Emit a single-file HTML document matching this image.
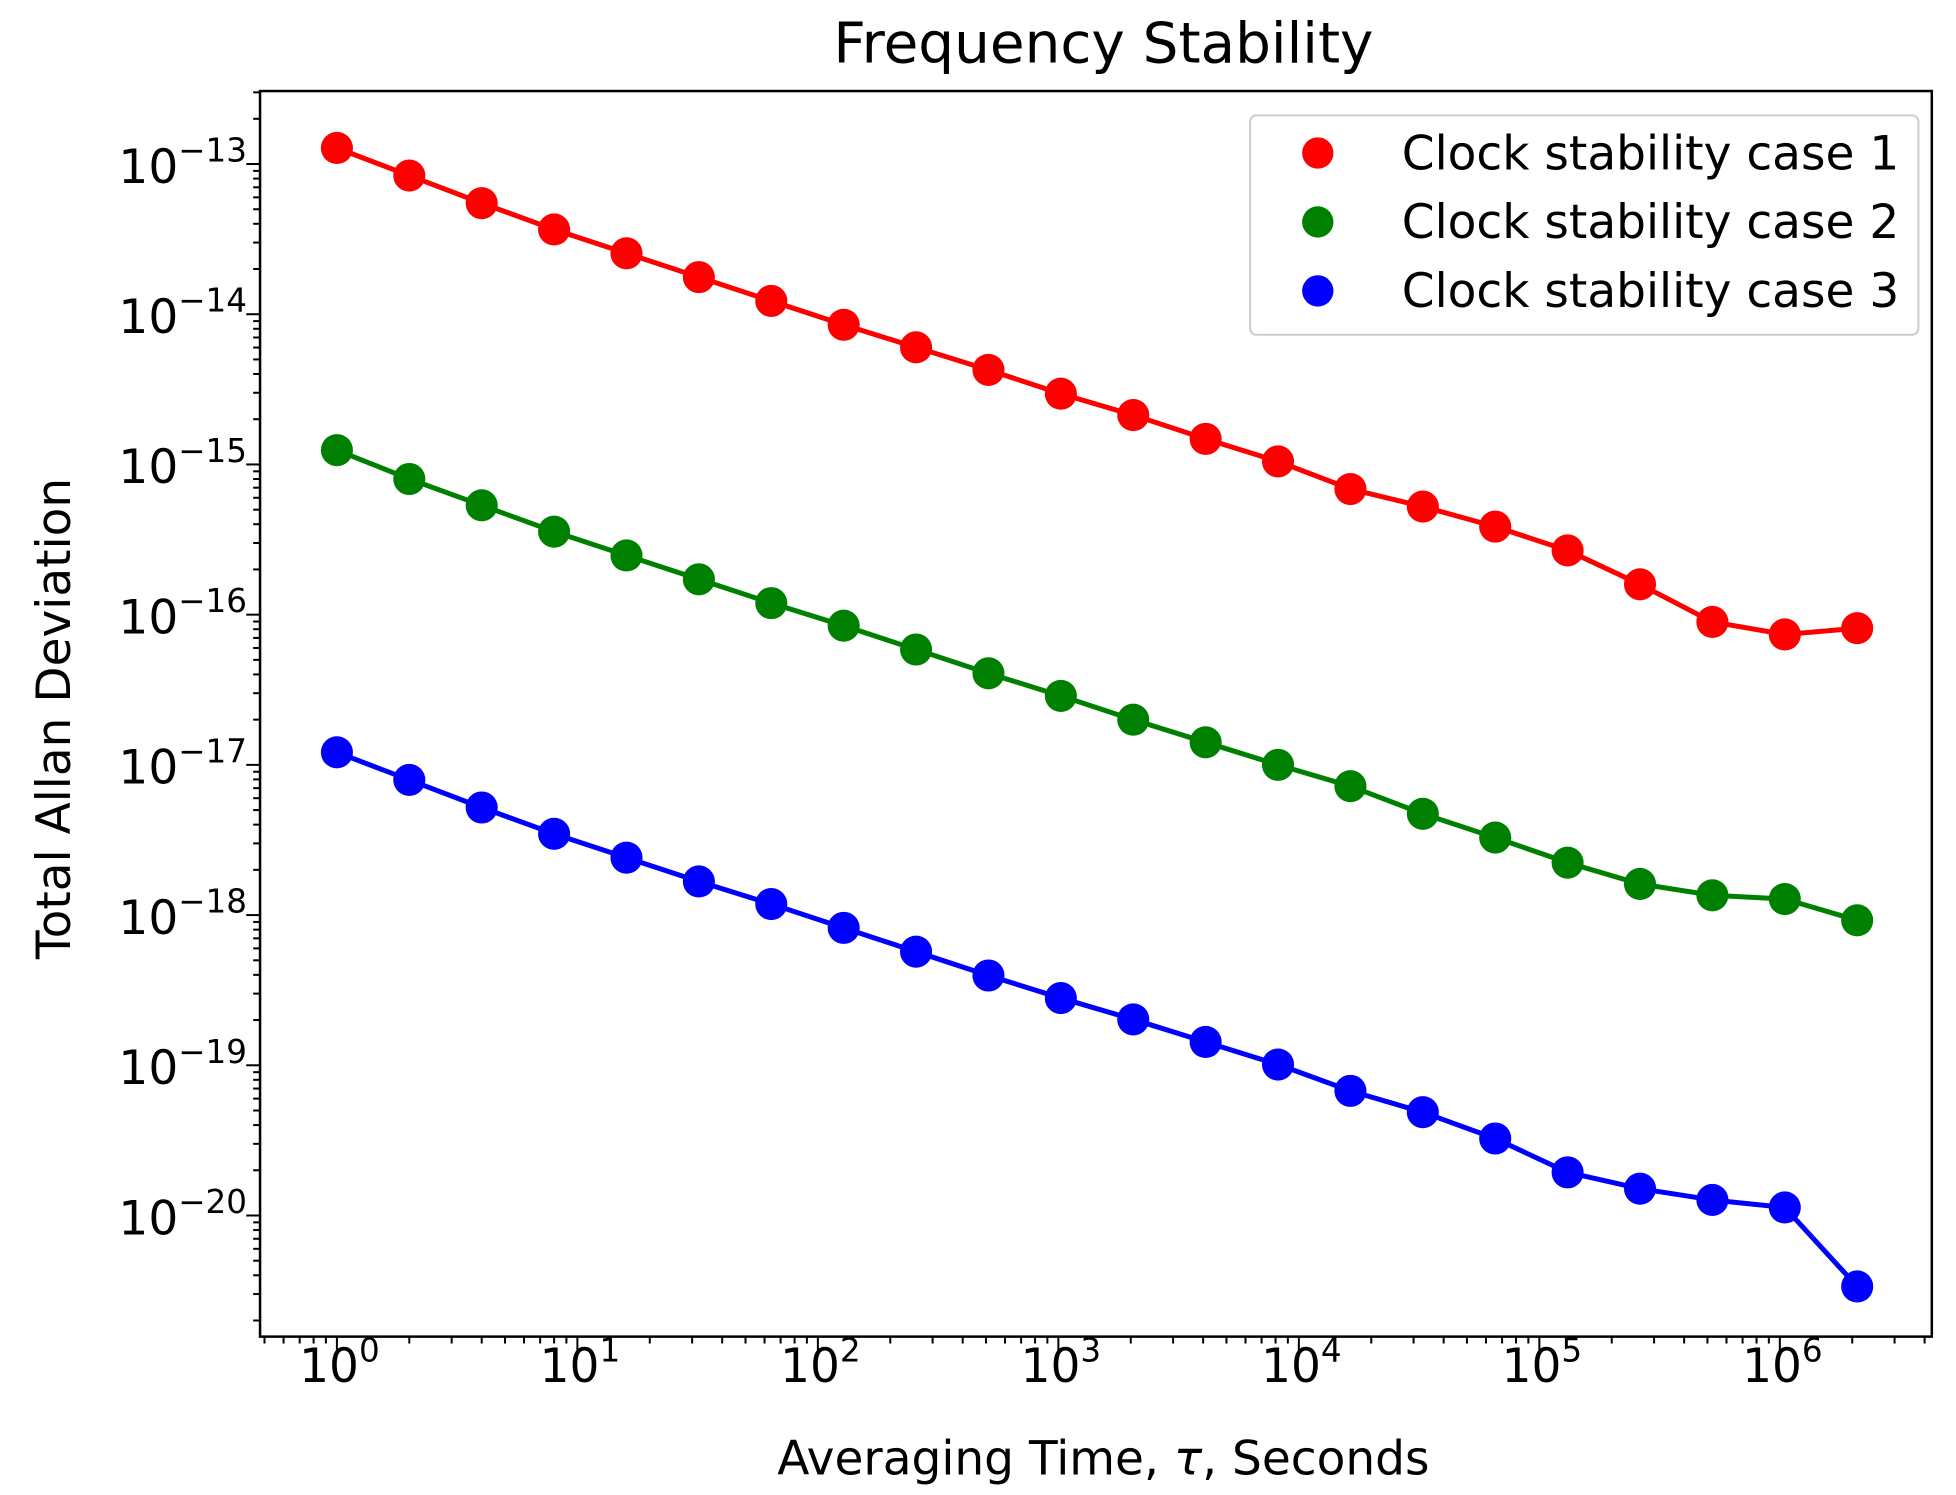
<!DOCTYPE html>
<html><head><meta charset="utf-8"><style>
html,body{margin:0;padding:0;background:#fff;}
svg{display:block;}
text{font-family:"DejaVu Sans","Liberation Sans",sans-serif;fill:#000;}
</style></head><body>
<svg id="s" width="1956" height="1495" viewBox="0 0 1560 1192.3" xmlns="http://www.w3.org/2000/svg">
<rect x="0" y="0" width="1560" height="1192.3" fill="#fff"/>
<g id="series"></g>
<rect x="207.4" y="72.6" width="1333.3" height="993.4" fill="none" stroke="#000" stroke-width="2"/>
<g id="ticks" stroke="#000" stroke-width="1.6"></g>
<g id="labels" font-size="37.5"></g>
<text x="880" y="50" font-size="45" text-anchor="middle">Frequency Stability</text>
<text x="880" y="1176" font-size="37.5" text-anchor="middle">Averaging Time, <tspan font-style="italic">τ</tspan>, Seconds</text>
<text transform="translate(56,573) rotate(-90)" font-size="37.5" text-anchor="middle">Total Allan Deviation</text>
<rect x="997" y="92" width="533" height="175" rx="5" fill="#fff" fill-opacity="0.8" stroke="#ccc" stroke-width="1.6"/>
<circle cx="1051" cy="122" r="12.5" fill="#ff0000"/>
<circle cx="1051" cy="177" r="12.5" fill="#008000"/>
<circle cx="1051" cy="232" r="12.5" fill="#0000ff"/>
<text x="1118" y="135" font-size="37.5">Clock stability case 1</text>
<text x="1118" y="190" font-size="37.5">Clock stability case 2</text>
<text x="1118" y="245" font-size="37.5">Clock stability case 3</text>
</svg>
<script>
var NS="http://www.w3.org/2000/svg";
function el(p,t,a,txt){var e=document.createElementNS(NS,t);for(var k in a)e.setAttribute(k,a[k]);if(txt!==undefined)e.textContent=txt;p.appendChild(e);return e;}
var L=207.4,R=1540.7,T=72.6,B=1066;
var x0=268.7,dx=191.8,y13=130.8,dy=119.8;
function X(lg){return x0+lg*dx;}
function Y(lg){return y13-(lg+13)*dy;}
var tk=document.getElementById('ticks'),lb=document.getElementById('labels');
for(var d=-1;d<=6;d++){for(var m=1;m<=9;m++){var lg=d+Math.log10(m);var x=X(lg);if(x<L-0.5||x>R+0.5)continue;
 var len=m==1?11:5.5;el(tk,'line',{x1:x,y1:B,x2:x,y2:B+len});
 if(m==1){var t=el(lb,'text',{x:x+2,y:1102,'text-anchor':'middle'});el(t,'tspan',{},'10');el(t,'tspan',{'font-size':'26',dy:'-16'},String(d));}}}
for(var d=-21;d<=-13;d++){for(var m=1;m<=9;m++){var lg=d+Math.log10(m);var y=Y(lg);if(y<T-0.5||y>B+0.5)continue;
 var len=m==1?11:5.5;el(tk,'line',{x1:L,y1:y,x2:L-len,y2:y});
 if(m==1){var t=el(lb,'text',{x:197,y:y+15,'text-anchor':'end'});el(t,'tspan',{},'10');el(t,'tspan',{'font-size':'26',dy:'-17'},'\u2212'+(-d));}}}
var red=[118,140,162,183,202,221,240,259,277,295,314,331,350,368,390,404,420,439,466,496,506,501];
var green=[359,382,403,424,443,462,481,499,518,537,555,574,592,610,627,649,668,688,705,714,717,734];
var blue=[600,622,644,665,684,703,721,740,759,778,796,813,831,849,870,887,908,935,948,957,963,1026];
var sg=document.getElementById('series');
[[red,'#ff0000'],[green,'#008000'],[blue,'#0000ff']].forEach(function(s){
 var pts=s[0].map(function(y,k){return [X(k*Math.log10(2)),y];});
 el(sg,'polyline',{points:pts.map(function(p){return p.join(',')}).join(' '),fill:'none',stroke:s[1],'stroke-width':4,'stroke-linejoin':'round'});
 pts.forEach(function(p){el(sg,'circle',{cx:p[0],cy:p[1],r:12.8,fill:s[1]});});
});
</script>
</body></html>
